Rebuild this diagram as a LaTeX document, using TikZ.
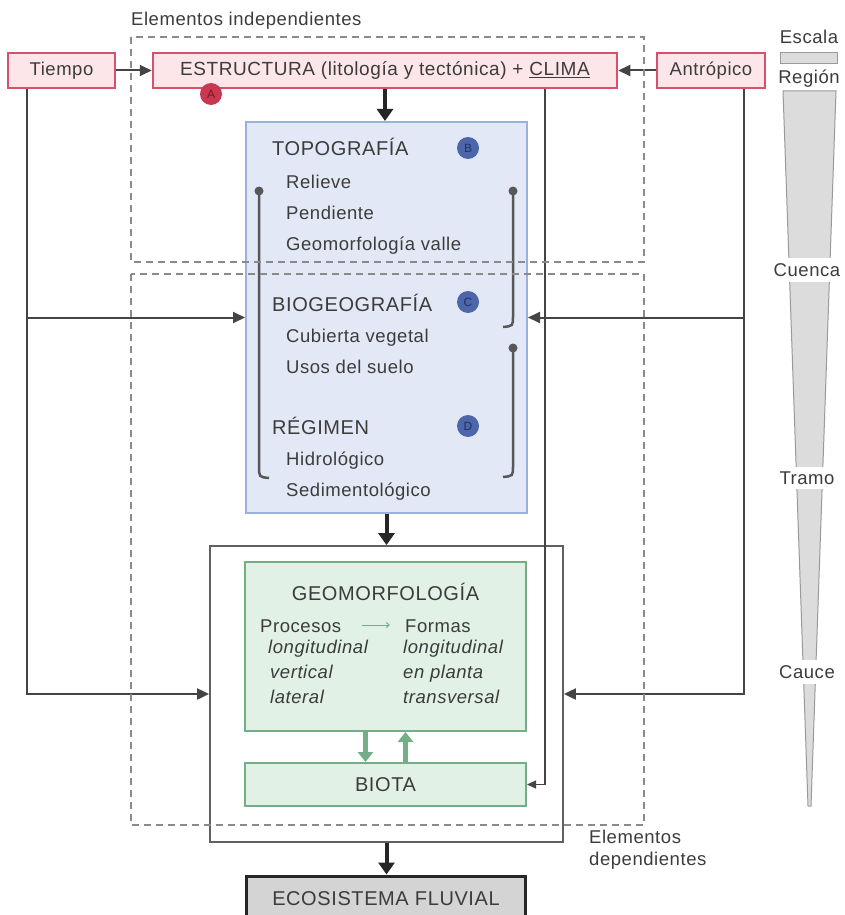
\documentclass[tikz,border=0pt]{standalone}
\usepackage{fontspec}
\setmainfont{Liberation Sans}[LetterSpace=3]
\usetikzlibrary{arrows.meta,calc}
\definecolor{txt}{HTML}{3C3C3C}
\definecolor{pinkf}{HTML}{FCE6EA}
\definecolor{pinkb}{HTML}{D9506B}
\definecolor{bluef}{HTML}{E3E8F6}
\definecolor{blueb}{HTML}{9BB0DD}
\definecolor{greenf}{HTML}{E2F1E6}
\definecolor{greenb}{HTML}{74AE86}
\definecolor{lineg}{HTML}{444444}
\definecolor{dashg}{HTML}{8A8A8A}
\definecolor{redc}{HTML}{C93750}
\definecolor{redd}{HTML}{7A1628}
\definecolor{bluec}{HTML}{4D66AA}
\definecolor{blued}{HTML}{22306A}
\definecolor{scalef}{HTML}{DCDCDC}
\definecolor{scaleb}{HTML}{9A9A9A}
\definecolor{ecof}{HTML}{D4D4D4}
\newcommand{\fsN}{\fontsize{18.5}{22}\selectfont}
\newcommand{\fsH}{\fontsize{20}{24}\selectfont}
\tikzset{
  pinkbox/.style={draw=pinkb, fill=pinkf, line width=2.5pt, inner sep=0pt},
  bluebox/.style={draw=blueb, fill=bluef, line width=2pt, inner sep=0pt},
  greenbox/.style={draw=greenb, fill=greenf, line width=2pt, inner sep=0pt},
  whitebox/.style={draw=lineg!85, fill=white, line width=1.8pt, inner sep=0pt},
  ecobox/.style={draw=black!85, fill=ecof, line width=3pt, inner sep=0pt},
  conn/.style={draw=lineg, line width=2pt, -{Triangle[length=12pt,width=11pt]}},
  bigarrow/.style={draw=black!85, line width=4pt, -{Triangle[length=12pt,width=16pt]}},
  thinline/.style={draw=lineg, line width=1.2pt, -{Triangle[length=9pt,width=8pt]}},
  garrow/.style={draw=greenb, line width=4.5pt, -{Triangle[length=10pt,width=15pt]}},
  dashbox/.style={draw=dashg, line width=1.6pt, dash pattern=on 7pt off 5pt},
  circ/.style={circle, minimum size=22pt, inner sep=0pt, font=\fontsize{12}{12}\selectfont},
  brk/.style={draw=lineg!90, line width=2.5pt},
  lbl/.style={anchor=base west, inner sep=0pt},
  hd/.style={anchor=base west, inner sep=0pt, font=\fsH},
  it/.style={anchor=base west, inner sep=0pt, font=\fsN\itshape},
  sc/.style={fill=white, inner xsep=1pt, inner ysep=5pt}
}
\begin{document}
\begin{tikzpicture}[x=1pt,y=-1pt, font=\fsN, text=txt]
\clip (0,0) rectangle (844,915);
\fill[white] (0,0) rectangle (844,915);

% top boxes
\node[pinkbox, minimum width=107pt, minimum height=35pt] (tiempo) at (61.5,70.5) {Tiempo};
\node[pinkbox, minimum width=464pt, minimum height=35pt, font=\fontsize{19}{22}\selectfont] (estr) at (385,70.5) {ESTRUCTURA (litología y tectónica) + \underline{CLIMA}};
\node[pinkbox, minimum width=108pt, minimum height=35pt] (antr) at (711,70.5) {Antrópico};
\node[circ, fill=redc, text=redd] (ca) at (211,94) {A};

% main boxes
\node[bluebox, minimum width=281pt, minimum height=391pt] (blue) at (386.5,317.5) {};
\node[whitebox, minimum width=353pt, minimum height=296pt] (white) at (386.5,694) {};
\node[greenbox, minimum width=281pt, minimum height=169pt] (geo) at (385.5,646.5) {};
\node[greenbox, minimum width=281pt, minimum height=43pt, font=\fsH] (biota) at (385.5,784.5) {BIOTA};
\node[ecobox, minimum width=279pt, minimum height=46pt, font=\fsH] (eco) at (386,899) {ECOSISTEMA FLUVIAL};

% blue box content
\node[hd] (topo) at (272,155) {TOPOGRAFÍA};
\node[lbl] (rel) at (286,188) {Relieve};
\node[lbl] (pen) at (286,219) {Pendiente};
\node[lbl] (gv) at (286,250) {Geomorfología valle};
\node[hd] (biog) at (272,311) {BIOGEOGRAFÍA};
\node[lbl] (cub) at (286,342) {Cubierta vegetal};
\node[lbl] (uso) at (286,373) {Usos del suelo};
\node[hd] (reg) at (272,434) {RÉGIMEN};
\node[lbl] (hid) at (286,465) {Hidrológico};
\node[lbl] (sed) at (286,496) {Sedimentológico};
\node[circ, fill=bluec, text=blued] (cb) at (468,148) {B};
\node[circ, fill=bluec, text=blued] (cc) at (468,302) {C};
\node[circ, fill=bluec, text=blued] (cd) at (468,426) {D};

% brackets
\fill[lineg!90] (259,191) circle (4.5pt);
\draw[brk] (259,191) -- (259,466) .. controls (259,477) .. (269,478);
\fill[lineg!90] (513,191) circle (4.5pt);
\draw[brk] (513,191) -- (513,316) .. controls (513,326) .. (503,327);
\fill[lineg!90] (513,348) circle (4.5pt);
\draw[brk] (513,348) -- (513,466) .. controls (513,476) .. (503,477);

% green box content
\node[anchor=base, inner sep=0pt, font=\fsH] (gtitle) at (385.5,600) {GEOMORFOLOGÍA};
\node[lbl] (proc) at (260,632) {Procesos};
\node[lbl] (form) at (405,632) {Formas};
\draw[draw=greenb, line width=1pt, -{Straight Barb[length=3pt,width=5pt]}] (362,625) -- (390,625);
\node[it] (pl) at (268,653) {longitudinal};
\node[it] (pv) at (270,678) {vertical};
\node[it] (pa) at (270,703) {lateral};
\node[it] (fl) at (403,653) {longitudinal};
\node[it] (fe) at (403,678) {en planta};
\node[it] (ft) at (403,703) {transversal};
\draw[garrow] ([xshift=-20pt]geo.south) -- ([xshift=-20pt]biota.north);
\draw[garrow] ([xshift=20pt]biota.north) -- ([xshift=20pt]geo.south);

% connectors
\draw[conn] (tiempo.east) -- (estr.west);
\draw[conn] (antr.west) -- (estr.east);
\draw[bigarrow] (estr.south) -- (estr.south |- blue.north);
\draw[bigarrow] (blue.south) -- (blue.south |- white.north);
\draw[bigarrow] (white.south) -- (white.south |- eco.north);
\draw[conn] ([xshift=20pt]tiempo.south west) |- (white.west);
\coordinate (lj) at (28,317.5);
\draw[conn] (lj) -- (blue.west);
\draw[conn] ([xshift=-22pt]antr.south east) |- (white.east);
\coordinate (rj) at (743,317.5);
\draw[conn] (rj) -- (blue.east);
\draw[thinline] ([xshift=160pt]estr.south) |- (biota.east);

% dashed groups
\draw[dashbox] (131,37) rectangle (644,262);
\draw[dashbox] (131,274) rectangle (644,825);
\node[anchor=west, inner sep=0pt] (lind) at (131,21) {Elementos independientes};
\node[anchor=north west, align=left, inner sep=0pt] (ldep) at (589,830) {Elementos\\dependientes};

% scale
\node (esc) at (809,37) {Escala};
\draw[fill=scalef, draw=scaleb, line width=1pt] (780,53) rectangle (837,64);
\node (regn) at (809,79) {Región};
\draw[fill=scalef, draw=scaleb, line width=1pt] (783,91) -- (836,91) -- (811,806) -- (808,806) -- cycle;
\node[sc] (cuenca) at (807,270) {Cuenca};
\node[sc] (tramo) at (807,478) {Tramo};
\node[sc] (cauce) at (807,672) {Cauce};
\end{tikzpicture}
\end{document}
